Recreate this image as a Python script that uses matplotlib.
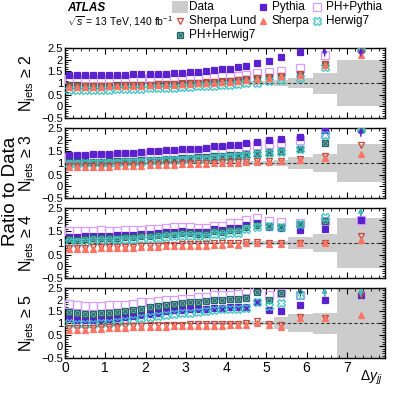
import numpy as np
import matplotlib
matplotlib.use("Agg")
import matplotlib.pyplot as plt
from matplotlib.lines import Line2D
from matplotlib.patches import Rectangle
from matplotlib.ticker import MultipleLocator

plt.rcParams['font.family'] = ['Liberation Sans', 'DejaVu Sans']
plt.rcParams['mathtext.fontset'] = 'custom'
plt.rcParams['mathtext.rm'] = 'Liberation Sans'
plt.rcParams['mathtext.it'] = 'Liberation Sans:italic'

# bin edges in delta y_jj
edges = [0.0, 0.2, 0.4, 0.6, 0.8, 1.0, 1.2, 1.4, 1.6, 1.8, 2.0, 2.2, 2.4, 2.6, 2.8,
         3.0, 3.2, 3.4, 3.6, 3.8, 4.0, 4.2, 4.4, 4.6, 4.95, 5.2, 5.55, 6.15, 6.75, 7.95]

panel_labels = ['2', '3', '4', '5']

# N_jets >= 2
data_err1 = [0.03, 0.03, 0.03, 0.03, 0.03, 0.03, 0.03, 0.03, 0.03, 0.03, 0.03, 0.03, 0.03, 0.03, 0.03,
             0.03, 0.03, 0.04, 0.04, 0.04, 0.05, 0.05, 0.06, 0.07, 0.08, 0.12, 0.22, 0.45, 1.0]
pythia1 = [1.36, 1.36, 1.36, 1.36, 1.36, 1.36, 1.36, 1.36, 1.37, 1.38, 1.38, 1.39, 1.40, 1.42, 1.43,
           1.45, 1.47, 1.50, 1.54, 1.58, 1.62, 1.70, 1.74, 1.85, 1.96, 2.13, 2.32, 2.7, 2.7]
phpythia1 = [1.18, 1.18, 1.18, 1.18, 1.18, 1.18, 1.18, 1.18, 1.19, 1.19, 1.20, 1.20, 1.21, 1.22, 1.23,
             1.24, 1.25, 1.26, 1.27, 1.28, 1.30, 1.32, 1.35, 1.42, 1.46, 1.53, 1.63, 2.2, 2.7]
sherpalund1 = [0.88, 0.88, 0.87, 0.87, 0.88, 0.88, 0.89, 0.90, 0.91, 0.92, 0.93, 0.94, 0.95, 0.96, 0.98,
               0.99, 1.01, 1.03, 1.05, 1.07, 1.09, 1.13, 1.15, 1.20, 1.24, 1.31, 1.38, 1.80, 2.28]
sherpa1 = [0.84, 0.84, 0.84, 0.84, 0.84, 0.85, 0.86, 0.87, 0.88, 0.89, 0.90, 0.91, 0.92, 0.93, 0.95,
           0.96, 0.98, 1.00, 1.02, 1.04, 1.06, 1.10, 1.12, 1.17, 1.21, 1.28, 1.35, 1.78, 2.22]
herwig1 = [0.72, 0.72, 0.71, 0.71, 0.72, 0.72, 0.73, 0.74, 0.75, 0.76, 0.77, 0.78, 0.79, 0.80, 0.82,
           0.83, 0.85, 0.87, 0.89, 0.91, 0.93, 0.96, 0.98, 1.02, 1.07, 1.13, 1.20, 1.70, 2.45]
phherwig1 = [0.90, 0.90, 0.89, 0.89, 0.89, 0.89, 0.90, 0.90, 0.91, 0.92, 0.93, 0.94, 0.95, 0.96, 0.97,
             0.99, 1.00, 1.02, 1.04, 1.06, 1.09, 1.13, 1.15, 1.20, 1.25, 1.32, 1.40, 1.82, 2.45]

# N_jets >= 3
data_err2 = [0.03, 0.03, 0.03, 0.03, 0.03, 0.03, 0.03, 0.03, 0.03, 0.03, 0.03, 0.03, 0.03, 0.03, 0.03,
             0.03, 0.04, 0.04, 0.04, 0.05, 0.05, 0.06, 0.07, 0.08, 0.10, 0.12, 0.25, 0.40, 0.80]
pythia2 = [1.33, 1.33, 1.35, 1.37, 1.38, 1.39, 1.41, 1.43, 1.45, 1.48, 1.50, 1.53, 1.55, 1.57, 1.59,
           1.61, 1.62, 1.63, 1.73, 1.74, 1.77, 1.79, 1.86, 1.92, 1.97, 2.01, 2.12, 2.43, 2.7]
phpythia2 = [1.24, 1.24, 1.25, 1.27, 1.28, 1.29, 1.31, 1.33, 1.35, 1.37, 1.39, 1.41, 1.43, 1.45, 1.47,
             1.49, 1.50, 1.51, 1.60, 1.61, 1.64, 1.66, 1.72, 1.78, 1.83, 1.86, 1.97, 2.25, 2.7]
sherpalund2 = [0.87, 0.87, 0.87, 0.88, 0.88, 0.89, 0.90, 0.91, 0.92, 0.93, 0.94, 0.95, 0.96, 0.97, 0.98,
               0.99, 1.00, 1.01, 1.02, 1.03, 1.04, 1.05, 1.06, 1.08, 1.09, 1.10, 1.16, 1.30, 1.77]
sherpa2 = [0.83, 0.83, 0.83, 0.84, 0.84, 0.85, 0.86, 0.87, 0.88, 0.89, 0.90, 0.91, 0.92, 0.93, 0.94,
           0.95, 0.96, 0.97, 0.98, 1.00, 1.01, 1.02, 1.03, 1.05, 1.06, 1.07, 1.11, 1.22, 1.40]
herwig2 = [0.97, 0.97, 0.98, 0.99, 1.00, 1.01, 1.02, 1.03, 1.04, 1.06, 1.07, 1.09, 1.11, 1.13, 1.14,
           1.16, 1.18, 1.19, 1.22, 1.24, 1.27, 1.30, 1.33, 1.39, 1.44, 1.47, 1.62, 2.20, 2.45]
phherwig2 = [1.03, 1.03, 1.04, 1.05, 1.06, 1.07, 1.08, 1.09, 1.10, 1.12, 1.13, 1.15, 1.17, 1.19, 1.20,
             1.22, 1.24, 1.25, 1.28, 1.30, 1.33, 1.36, 1.39, 1.44, 1.48, 1.51, 1.59, 1.85, 2.45]

# N_jets >= 4
data_err3 = [0.03, 0.03, 0.03, 0.03, 0.03, 0.03, 0.03, 0.03, 0.03, 0.03, 0.03, 0.03, 0.03, 0.03, 0.04,
             0.04, 0.04, 0.04, 0.05, 0.05, 0.06, 0.06, 0.07, 0.07, 0.08, 0.10, 0.25, 0.37, 1.07]
pythia3 = [1.27, 1.25, 1.28, 1.30, 1.30, 1.32, 1.33, 1.34, 1.35, 1.37, 1.39, 1.43, 1.47, 1.49, 1.50,
           1.49, 1.48, 1.47, 1.58, 1.55, 1.63, 1.63, 1.77, 1.84, 1.70, 1.63, 1.56, 1.60, 1.98]
phpythia3 = [1.52, 1.50, 1.51, 1.53, 1.54, 1.53, 1.53, 1.54, 1.55, 1.56, 1.58, 1.62, 1.66, 1.68, 1.68,
             1.67, 1.66, 1.64, 1.75, 1.73, 1.84, 1.84, 1.99, 2.06, 1.96, 1.91, 1.84, 1.95, 2.0]
sherpalund3 = [0.80, 0.79, 0.80, 0.81, 0.82, 0.83, 0.83, 0.84, 0.85, 0.86, 0.87, 0.89, 0.91, 0.93, 0.94,
               0.94, 0.94, 0.94, 0.98, 0.98, 1.02, 1.00, 1.04, 1.06, 1.02, 1.00, 1.02, 1.02, 1.32]
sherpa3 = [0.74, 0.73, 0.75, 0.76, 0.77, 0.78, 0.78, 0.79, 0.80, 0.81, 0.82, 0.84, 0.86, 0.88, 0.89,
           0.89, 0.89, 0.89, 0.93, 0.93, 0.97, 0.93, 1.00, 1.00, 0.97, 0.96, 0.98, 1.00, 1.15]
herwig3 = [1.06, 1.04, 1.06, 1.08, 1.09, 1.10, 1.11, 1.13, 1.14, 1.16, 1.18, 1.22, 1.26, 1.28, 1.29,
           1.29, 1.28, 1.27, 1.38, 1.35, 1.45, 1.42, 1.60, 1.70, 1.72, 1.68, 1.80, 2.10, 2.7]
phherwig3 = [1.17, 1.15, 1.18, 1.20, 1.21, 1.22, 1.23, 1.25, 1.26, 1.28, 1.30, 1.34, 1.38, 1.40, 1.41,
             1.41, 1.40, 1.39, 1.50, 1.47, 1.56, 1.56, 1.68, 1.78, 1.75, 1.70, 1.80, 1.95, 2.7]

# N_jets >= 5
data_err4 = [0.04, 0.04, 0.04, 0.04, 0.04, 0.04, 0.04, 0.05, 0.05, 0.05, 0.05, 0.05, 0.05, 0.05, 0.05,
             0.05, 0.06, 0.06, 0.06, 0.07, 0.07, 0.07, 0.08, 0.09, 0.10, 0.25, 0.40, 0.45, 2.0]
pythia4 = [1.20, 1.15, 1.14, 1.15, 1.19, 1.18, 1.20, 1.25, 1.30, 1.35, 1.40, 1.45, 1.50, 1.54, 1.56,
           1.58, 1.60, 1.62, 1.64, 1.66, 1.70, 1.68, 1.70, 1.91, 1.56, 1.51, 1.77, 1.99, 2.2]
phpythia4 = [1.80, 1.77, 1.72, 1.73, 1.75, 1.78, 1.76, 1.76, 1.80, 1.88, 1.90, 1.93, 1.97, 2.00, 2.05,
             2.03, 2.10, 2.12, 2.18, 2.20, 2.22, 2.25, 2.42, 2.48, 2.20, 2.30, 2.20, 2.7, 2.7]
sherpalund4 = [0.80, 0.78, 0.79, 0.80, 0.82, 0.83, 0.84, 0.86, 0.87, 0.89, 0.90, 0.91, 0.92, 0.93, 0.93,
               0.94, 0.95, 0.95, 0.95, 0.96, 0.97, 0.97, 0.98, 1.08, 0.96, 0.90, 1.27, 1.22, 2.2]
sherpa4 = [0.72, 0.70, 0.72, 0.74, 0.76, 0.77, 0.78, 0.80, 0.81, 0.82, 0.83, 0.84, 0.85, 0.86, 0.86,
           0.87, 0.88, 0.88, 0.88, 0.89, 0.90, 0.90, 0.91, 1.02, 0.90, 0.84, 1.20, 1.20, 1.34]
herwig4 = [1.00, 0.97, 0.96, 0.97, 1.00, 1.02, 1.05, 1.10, 1.15, 1.20, 1.25, 1.30, 1.34, 1.38, 1.42,
           1.45, 1.48, 1.52, 1.55, 1.58, 1.62, 1.60, 1.65, 1.91, 1.75, 1.85, 2.20, 2.7, 2.7]
phherwig4 = [1.47, 1.42, 1.40, 1.40, 1.45, 1.45, 1.47, 1.50, 1.57, 1.62, 1.68, 1.72, 1.77, 1.83, 1.86,
             1.88, 1.92, 1.95, 1.98, 2.00, 2.04, 2.02, 2.06, 2.34, 2.00, 2.27, 2.7, 2.7, 2.7]

panels = [
    (data_err1, pythia1, phpythia1, sherpalund1, sherpa1, herwig1, phherwig1),
    (data_err2, pythia2, phpythia2, sherpalund2, sherpa2, herwig2, phherwig2),
    (data_err3, pythia3, phpythia3, sherpalund3, sherpa3, herwig3, phherwig3),
    (data_err4, pythia4, phpythia4, sherpalund4, sherpa4, herwig4, phherwig4),
]

edges = np.array(edges)
centers = 0.5 * (edges[:-1] + edges[1:])
widths = np.diff(edges)

c_pythia = '#5a22cf'
c_phpythia = '#d99cff'
c_lund = '#c8463a'
c_sherpa = '#fb7464'
c_herwig = '#3cc4c4'
c_phherwig = '#1f6868'

styles = [
    # color, marker, face, size
    (c_pythia, 's', c_pythia, 5.0),
    (c_phpythia, 's', 'none', 5.5),
    (c_lund, 'v', 'none', 5.0),
    (c_sherpa, '^', c_sherpa, 5.0),
    (c_herwig, 'X', 'none', 5.5),
    (c_phherwig, 's', '#8fb5b5', 5.0),
]
# drawing order: behind -> front
order = [1, 0, 5, 4, 2, 3]

fig = plt.figure(figsize=(4.07, 3.95), dpi=100)
W, H = 407.0, 395.0
ax_left, ax_right = 65 / W, 385 / W
tops = [48, 128, 208, 288]
ph = 70

for i, p in enumerate(panels):
    top = tops[i]
    ax = fig.add_axes([ax_left, 1 - (top + ph) / H, ax_right - ax_left, ph / H])
    err = np.array(p[0])
    ax.bar(centers, 2 * err, bottom=1 - err, width=widths, color='#cccccc', lw=0, zorder=1)
    ax.axhline(1, color='#333333', ls=(0, (3, 2)), lw=0.8, zorder=2)
    for k in order:
        col, mk, fc, ms = styles[k]
        vals = np.array(p[k + 1])
        inside = vals <= 2.5
        ax.plot(centers[inside], vals[inside], ls='none', marker=mk, color=col,
                mfc=fc, mec=col, ms=ms, mew=0.9, zorder=3 + order.index(k))
        if k == 5:
            ax.plot(centers[inside], vals[inside], ls='none', marker='x', color=col,
                    ms=3.5, mew=0.8, zorder=3 + order.index(k))
        for x in centers[~inside]:
            ax.annotate('', xy=(x, 2.5), xytext=(x, 2.15),
                        arrowprops=dict(arrowstyle='-|>', color=col, lw=1.0,
                                        mutation_scale=6, shrinkA=0, shrinkB=0),
                        zorder=10, annotation_clip=False)
    ax.set_xlim(0, 7.95)
    ax.set_ylim(-0.5, 2.5)
    ax.set_yticks([-0.5, 0, 0.5, 1, 1.5, 2, 2.5])
    ax.set_yticklabels(['\u22120.5', '0', '0.5', '1', '1.5', '2', '2.5'])
    ax.xaxis.set_major_locator(MultipleLocator(1))
    ax.xaxis.set_minor_locator(MultipleLocator(0.2))
    ax.yaxis.set_minor_locator(MultipleLocator(0.1))
    ax.tick_params(which='both', direction='in', top=True, right=True, labelsize=9.5, pad=1.5)
    ax.tick_params(which='major', length=4)
    ax.tick_params(which='minor', length=2)
    ax.tick_params(axis='y', labelsize=8)
    for s in ax.spines.values():
        s.set_linewidth(1.0)
    if i < 3:
        ax.set_xticklabels([])
    else:
        ax.tick_params(axis='x', labelsize=10, pad=2)
    fig.text(28 / W, 1 - (top + ph / 2) / H, 'N$_{\\mathrm{jets}}$ \u2265 ' + panel_labels[i],
             rotation=90, ha='center', va='center', fontsize=11.5)

fig.text(11 / W, 1 - 191 / H, 'Ratio to Data', rotation=90, ha='center', va='center', fontsize=13.5)
fig.text(383 / W, 1 - 378 / H, '$\\Delta y_{jj}$', ha='right', va='center', fontsize=10)

# header
fig.text(67 / W, 1 - 8 / H, 'ATLAS', fontsize=8.5, fontweight='bold', style='italic', va='center')
fig.text(67 / W, 1 - 22 / H, '$\\sqrt{s}$ = 13 TeV, 140 fb$^{-1}$', fontsize=7.5, va='center')

# legend
leg = [
    (180, 7, 'Data', None),
    (263, 7, 'Pythia', 0),
    (317, 7, 'PH+Pythia', 1),
    (180, 21, 'Sherpa Lund', 2),
    (263, 21, 'Sherpa', 3),
    (317, 21, 'Herwig7', 4),
    (180, 35, 'PH+Herwig7', 5),
]
for lx, ly, txt, k in leg:
    fx, fy = lx / W, 1 - ly / H
    if k is None:
        fig.add_artist(Rectangle(((lx - 8) / W, 1 - (ly + 5.5) / H), 16 / W, 11 / H,
                                 transform=fig.transFigure, color='#cccccc', lw=0))
    else:
        col, mk, fc, ms = styles[k]
        fig.add_artist(Line2D([fx], [fy], transform=fig.transFigure, marker=mk, color=col,
                              mfc=fc, mec=col, ms=ms, mew=0.9, ls='none'))
        if k == 5:
            fig.add_artist(Line2D([fx], [fy], transform=fig.transFigure, marker='x', color=col,
                                  ms=3.5, mew=0.8, ls='none'))
    fig.text((lx + 9) / W, fy, txt, fontsize=8.5, va='center')

fig.savefig('out.png', dpi=100)
